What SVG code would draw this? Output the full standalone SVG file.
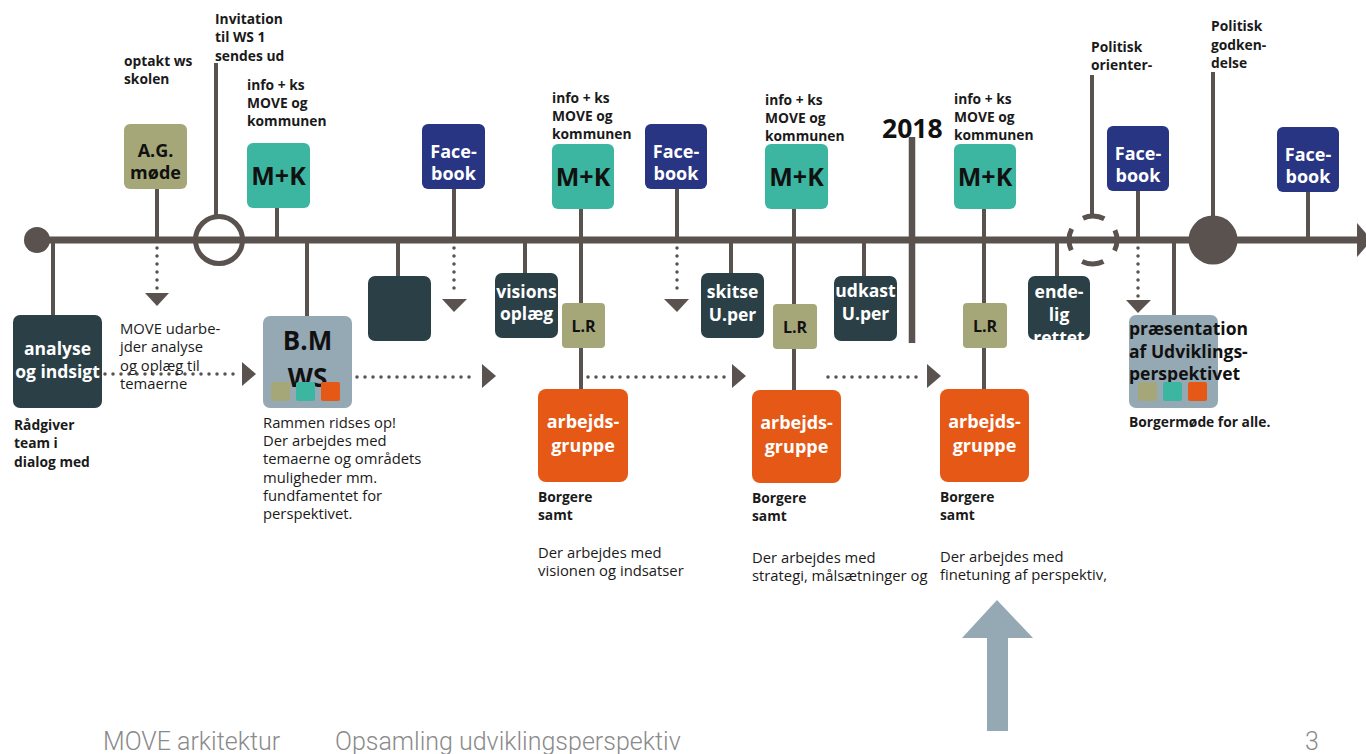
<svg xmlns="http://www.w3.org/2000/svg" width="1366" height="754" viewBox="0 0 1366 754">
<style>
.ln{stroke:#5a524e;stroke-width:4;fill:none}
.dot{stroke:#5a524e;stroke-width:3.5;stroke-linecap:round;stroke-dasharray:0 8;fill:none}
.ah{fill:#5a524e}
.dk{fill:#2b4046}
.ol{fill:#a6a778}
.tl{fill:#3db6a1}
.nv{fill:#283583}
.or{fill:#e55815}
.bg{fill:#95a9b4}
text{font-family:"Open Sans","Noto Sans","Liberation Sans",sans-serif}
.lb{font-size:13.8px;font-weight:700;fill:#1a1a1a}
.rg{font-size:14.8px;font-weight:400;fill:#1a1a1a}
.wt{font-size:17.5px;font-weight:700;fill:#ffffff;text-anchor:middle}
.fb{font-size:18px;font-weight:700;fill:#ffffff;text-anchor:middle}
.mk{font-size:25px;font-weight:700;fill:#111;text-anchor:middle}
.lr{font-size:16px;font-weight:700;fill:#111;text-anchor:middle}
.ag{font-size:18px;font-weight:700;fill:#111;text-anchor:middle}
.ft{font-family:Roboto,"Liberation Sans",sans-serif;font-size:25px;font-weight:300;fill:#8a8a8a}
</style>
<defs>
<clipPath id="cEnde"><rect x="1028" y="276" width="62" height="64" rx="6"/></clipPath>
</defs>
<rect width="1366" height="754" fill="#ffffff"/>

<g id="connectors">
<line x1="37" y1="240" x2="1360" y2="240" stroke="#5a524e" stroke-width="7"/>
<polygon class="ah" points="1357,223 1372,240 1357,257"/>
<line class="ln" x1="157" y1="189" x2="157" y2="240"/>
<line class="ln" x1="216" y1="63" x2="216" y2="216"/>
<line class="ln" x1="277" y1="208" x2="277" y2="240"/>
<line class="ln" x1="454" y1="189" x2="454" y2="240"/>
<line class="ln" x1="677" y1="189" x2="677" y2="240"/>
<line class="ln" x1="1092" y1="75" x2="1092" y2="216"/>
<line class="ln" x1="1138" y1="190" x2="1138" y2="240"/>
<line class="ln" x1="1213" y1="72" x2="1213" y2="216"/>
<line class="ln" x1="1308" y1="192" x2="1308" y2="240"/>
<line class="ln" x1="53" y1="240" x2="53" y2="315"/>
<line class="ln" x1="307" y1="240" x2="307" y2="316"/>
<line class="ln" x1="398" y1="240" x2="398" y2="276"/>
<line class="ln" x1="525" y1="240" x2="525" y2="273"/>
<line class="ln" x1="581" y1="209" x2="581" y2="389"/>
<line class="ln" x1="731" y1="240" x2="731" y2="273"/>
<line class="ln" x1="794" y1="209" x2="794" y2="390"/>
<line class="ln" x1="864" y1="240" x2="864" y2="276"/>
<line class="ln" x1="984" y1="209" x2="984" y2="389"/>
<line class="ln" x1="1057" y1="240" x2="1057" y2="276"/>
<line class="ln" x1="1174" y1="240" x2="1174" y2="315"/>
<line x1="912" y1="137" x2="912" y2="343" stroke="#5a524e" stroke-width="6.5"/>
<line class="dot" x1="157" y1="248" x2="157" y2="290"/>
<polygon class="ah" points="145,293 169,293 157,306"/>
<line class="dot" x1="454" y1="248" x2="454" y2="296"/>
<polygon class="ah" points="442,299 467,299 454,312"/>
<line class="dot" x1="677" y1="248" x2="677" y2="296"/>
<polygon class="ah" points="664,299 689,299 677,312"/>
<line class="dot" x1="1138" y1="248" x2="1138" y2="297"/>
<polygon class="ah" points="1126,300 1151,300 1138,313"/>
<line class="dot" x1="105" y1="374" x2="237" y2="374"/>
<polygon class="ah" points="242,362 256,374 242,386"/>
<line class="dot" x1="357" y1="377" x2="475" y2="377"/>
<polygon class="ah" points="482,364 496,376 482,388"/>
<line class="dot" x1="588" y1="377" x2="726" y2="377"/>
<polygon class="ah" points="732,364 746,376 732,388"/>
<line class="dot" x1="828" y1="377" x2="922" y2="377"/>
<polygon class="ah" points="927,364 941,376 927,388"/>
</g>

<g id="start-dot"><circle cx="37" cy="240" r="13" fill="#5a524e"/></g>
<g id="invitation-circle"><circle cx="219" cy="240" r="23.5" fill="none" stroke="#5a524e" stroke-width="5"/></g>
<g id="politisk-orient-circle"><circle cx="1093" cy="240" r="24" fill="none" stroke="#5a524e" stroke-width="5" stroke-dasharray="22 15.7" stroke-dashoffset="11"/></g>
<g id="politisk-godk-circle"><circle cx="1213" cy="240" r="24.5" fill="#5a524e"/></g>

<g id="label-optakt"><text class="lb" x="124" y="66">optakt ws</text><text class="lb" x="124" y="84">skolen</text></g>
<g id="label-invitation"><text class="lb" x="215" y="24">Invitation</text><text class="lb" x="215" y="42">til WS 1</text><text class="lb" x="215" y="61">sendes ud</text></g>
<g id="label-info1"><text class="lb" x="247" y="90">info + ks</text><text class="lb" x="247" y="108">MOVE og</text><text class="lb" x="247" y="126">kommunen</text></g>
<g id="label-info2"><text class="lb" x="552" y="103">info + ks</text><text class="lb" x="552" y="121">MOVE og</text><text class="lb" x="552" y="139">kommunen</text></g>
<g id="label-info3"><text class="lb" x="765" y="105">info + ks</text><text class="lb" x="765" y="123">MOVE og</text><text class="lb" x="765" y="141">kommunen</text></g>
<g id="label-info4"><text class="lb" x="954" y="104">info + ks</text><text class="lb" x="954" y="122">MOVE og</text><text class="lb" x="954" y="140">kommunen</text></g>
<g id="label-2018"><text x="882" y="138" style="font-size:26.5px;font-weight:700;fill:#111">2018</text></g>
<g id="label-pol-orient"><text class="lb" x="1091" y="52">Politisk</text><text class="lb" x="1091" y="70">orienter-</text></g>
<g id="label-pol-godk"><text class="lb" x="1211" y="31">Politisk</text><text class="lb" x="1211" y="50">godken-</text><text class="lb" x="1211" y="68">delse</text></g>

<g id="node-ag"><rect class="ol" x="124" y="124" width="63" height="65" rx="6"/><text class="ag" x="155.5" y="157">A.G.</text><text class="ag" x="155.5" y="179">møde</text></g>
<g id="node-mk1"><rect class="tl" x="247" y="143" width="63" height="65" rx="6"/><text class="mk" x="278.5" y="185">M+K</text></g>
<g id="node-fb1"><rect class="nv" x="422" y="124" width="63" height="65" rx="6"/><text class="fb" x="453.5" y="158">Face-</text><text class="fb" x="453.5" y="180">book</text></g>
<g id="node-mk2"><rect class="tl" x="552" y="144" width="62" height="65" rx="6"/><text class="mk" x="583" y="186">M+K</text></g>
<g id="node-fb2"><rect class="nv" x="645" y="124" width="62" height="65" rx="6"/><text class="fb" x="676" y="158">Face-</text><text class="fb" x="676" y="180">book</text></g>
<g id="node-mk3"><rect class="tl" x="765" y="144" width="63" height="65" rx="6"/><text class="mk" x="796.5" y="186">M+K</text></g>
<g id="node-mk4"><rect class="tl" x="954" y="144" width="62" height="65" rx="6"/><text class="mk" x="985" y="186">M+K</text></g>
<g id="node-fb3"><rect class="nv" x="1107" y="126" width="62" height="65" rx="6"/><text class="fb" x="1138" y="160">Face-</text><text class="fb" x="1138" y="182">book</text></g>
<g id="node-fb4"><rect class="nv" x="1277" y="127" width="62" height="65" rx="6"/><text class="fb" x="1308" y="161">Face-</text><text class="fb" x="1308" y="183">book</text></g>

<g id="node-analyse"><rect class="dk" x="13" y="315" width="89" height="93" rx="7"/><text class="wt" x="57.5" y="355">analyse</text><text class="wt" x="57.5" y="378">og indsigt</text></g>
<g id="label-move-udarbe"><text class="rg" x="120" y="334">MOVE udarbe-</text><text class="rg" x="120" y="352">jder analyse</text><text class="rg" x="120" y="371">og oplæg til</text><text class="rg" x="120" y="389">temaerne</text></g>
<g id="label-raadgiver"><text class="lb" x="14" y="430">Rådgiver</text><text class="lb" x="14" y="448">team i</text><text class="lb" x="14" y="467">dialog med</text></g>

<g id="node-bmws"><rect class="bg" x="263" y="316" width="89" height="92" rx="7"/><text x="307.5" y="350" style="font-size:26px;font-weight:700;fill:#111;text-anchor:middle">B.M</text><text x="307.5" y="387" style="font-size:26px;font-weight:700;fill:#111;text-anchor:middle">WS</text><rect class="ol" x="271" y="382" width="19" height="19" rx="2"/><rect class="tl" x="296" y="382" width="19" height="19" rx="2"/><rect class="or" x="321" y="382" width="19" height="19" rx="2"/></g>
<g id="label-rammen"><text class="rg" x="263" y="428">Rammen ridses op!</text><text class="rg" x="263" y="446">Der arbejdes med</text><text class="rg" x="263" y="464">temaerne og områdets</text><text class="rg" x="263" y="483">muligheder mm.</text><text class="rg" x="263" y="501">fundfamentet for</text><text class="rg" x="263" y="519">perspektivet.</text></g>

<g id="node-dark-empty"><rect class="dk" x="368" y="276" width="63" height="65" rx="7"/></g>
<g id="node-visions"><rect class="dk" x="495" y="273" width="63" height="65" rx="7"/><text class="wt" x="526.5" y="298">visions</text><text class="wt" x="526.5" y="320">oplæg</text></g>
<g id="node-lr1"><rect class="ol" x="562" y="303" width="43" height="45" rx="4"/><text class="lr" x="583.5" y="332">L.R</text></g>
<g id="node-arb1"><rect class="or" x="538" y="389" width="90" height="93" rx="8"/><text class="fb" x="583" y="428">arbejds-</text><text class="fb" x="583" y="452">gruppe</text></g>
<g id="label-arb1"><text class="lb" x="538" y="502">Borgere</text><text class="lb" x="538" y="520">samt</text><text class="rg" x="538" y="558">Der arbejdes med</text><text class="rg" x="538" y="576">visionen og indsatser</text></g>

<g id="node-skitse"><rect class="dk" x="701" y="273" width="63" height="65" rx="7"/><text class="wt" x="732.5" y="298">skitse</text><text class="wt" x="732.5" y="321">U.per</text></g>
<g id="node-lr2"><rect class="ol" x="773" y="304" width="44" height="45" rx="4"/><text class="lr" x="795" y="333">L.R</text></g>
<g id="node-arb2"><rect class="or" x="752" y="390" width="89" height="93" rx="8"/><text class="fb" x="796.5" y="429">arbejds-</text><text class="fb" x="796.5" y="453">gruppe</text></g>
<g id="label-arb2"><text class="lb" x="752" y="503">Borgere</text><text class="lb" x="752" y="521">samt</text><text class="rg" x="752" y="563">Der arbejdes med</text><text class="rg" x="752" y="581">strategi, målsætninger og</text></g>

<g id="node-udkast"><rect class="dk" x="834" y="276" width="63" height="65" rx="7"/><text class="wt" x="865.5" y="297">udkast</text><text class="wt" x="865.5" y="320">U.per</text></g>
<g id="node-lr3"><rect class="ol" x="963" y="303" width="44" height="45" rx="4"/><text class="lr" x="985" y="332">L.R</text></g>
<g id="node-arb3"><rect class="or" x="940" y="389" width="89" height="93" rx="8"/><text class="fb" x="984.5" y="428">arbejds-</text><text class="fb" x="984.5" y="452">gruppe</text></g>
<g id="label-arb3"><text class="lb" x="940" y="502">Borgere</text><text class="lb" x="940" y="520">samt</text><text class="rg" x="940" y="562">Der arbejdes med</text><text class="rg" x="940" y="580">finetuning af perspektiv,</text></g>

<g id="node-endelig"><rect class="dk" x="1028" y="276" width="62" height="64" rx="7"/><g clip-path="url(#cEnde)"><text class="wt" x="1059" y="298">ende-</text><text class="wt" x="1059" y="321">lig</text><text class="wt" x="1059" y="344">rettet</text></g></g>
<g id="node-praesentation"><rect class="bg" x="1129" y="315" width="89" height="93" rx="7"/><text x="1129" y="335" style="font-size:17.5px;font-weight:700;fill:#111">præsentation</text><text x="1129" y="358" style="font-size:17.5px;font-weight:700;fill:#111">af Udviklings-</text><text x="1129" y="380" style="font-size:17.5px;font-weight:700;fill:#111">perspektivet</text><rect class="ol" x="1138" y="382" width="19" height="19" rx="2"/><rect class="tl" x="1163" y="382" width="19" height="19" rx="2"/><rect class="or" x="1188" y="382" width="19" height="19" rx="2"/></g>
<g id="label-borgermode"><text class="lb" x="1129" y="427">Borgermøde for alle.</text></g>

<g id="big-arrow"><polygon class="bg" points="997,600 1033,638 1008,638 1008,731 987,731 987,638 962,638"/></g>

<g id="footer"><text class="ft" x="103" y="750">MOVE arkitektur</text><text class="ft" x="335" y="750">Opsamling udviklingsperspektiv</text><text class="ft" x="1305" y="750">3</text></g>
</svg>
